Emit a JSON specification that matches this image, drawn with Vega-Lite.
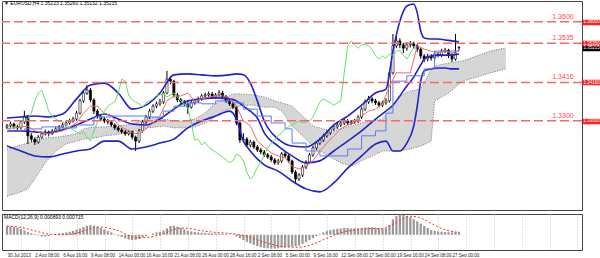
{
"$schema": "https://vega.github.io/schema/vega-lite/v6.json",
"padding": 0,
"autosize": {"type": "pad"},
"background": "#ffffff",
"spacing": 2,
"config": {
  "view": {"stroke": "#444444", "strokeWidth": 1},
  "font": "Liberation Sans",
  "axis": {"labelFont": "Liberation Sans", "labelOverlap": false, "gridColor": "#c4c4c4", "gridDash": [1, 2], "gridWidth": 1, "domain": false},
  "title": {"font": "Liberation Sans"}
},
"datasets": {
  "candles": [
{"i":0,"o":1.328,"h":1.329,"l":1.3274,"c":1.3284},
{"i":2,"o":1.3284,"h":1.3297,"l":1.3279,"c":1.329},
{"i":4,"o":1.329,"h":1.3294,"l":1.3275,"c":1.3281},
{"i":6,"o":1.3281,"h":1.3287,"l":1.327,"c":1.3278},
{"i":8,"o":1.3278,"h":1.3302,"l":1.3273,"c":1.3296},
{"i":10,"o":1.3296,"h":1.333,"l":1.329,"c":1.3314},
{"i":12,"o":1.3314,"h":1.3318,"l":1.3229,"c":1.3254},
{"i":14,"o":1.3254,"h":1.3262,"l":1.3236,"c":1.3244},
{"i":16,"o":1.3244,"h":1.325,"l":1.3226,"c":1.3235},
{"i":18,"o":1.3235,"h":1.3256,"l":1.323,"c":1.325},
{"i":20,"o":1.325,"h":1.3266,"l":1.3245,"c":1.326},
{"i":22,"o":1.326,"h":1.3273,"l":1.3255,"c":1.3266},
{"i":24,"o":1.3266,"h":1.327,"l":1.3252,"c":1.326},
{"i":26,"o":1.326,"h":1.3275,"l":1.3256,"c":1.3269},
{"i":28,"o":1.3269,"h":1.3281,"l":1.3264,"c":1.3275},
{"i":30,"o":1.3275,"h":1.3287,"l":1.327,"c":1.3281},
{"i":32,"o":1.3281,"h":1.3294,"l":1.3277,"c":1.3287},
{"i":34,"o":1.3287,"h":1.33,"l":1.3282,"c":1.3293},
{"i":36,"o":1.3293,"h":1.3306,"l":1.3288,"c":1.3299},
{"i":38,"o":1.3299,"h":1.3312,"l":1.3294,"c":1.3305},
{"i":40,"o":1.3305,"h":1.333,"l":1.33,"c":1.3323},
{"i":42,"o":1.3323,"h":1.3366,"l":1.3318,"c":1.336},
{"i":44,"o":1.336,"h":1.3392,"l":1.3354,"c":1.3384},
{"i":46,"o":1.3384,"h":1.3408,"l":1.3378,"c":1.3393},
{"i":48,"o":1.3393,"h":1.3399,"l":1.3356,"c":1.3363},
{"i":50,"o":1.3363,"h":1.3368,"l":1.332,"c":1.3329},
{"i":52,"o":1.3329,"h":1.3335,"l":1.3306,"c":1.3314},
{"i":54,"o":1.3314,"h":1.332,"l":1.3298,"c":1.3305},
{"i":56,"o":1.3305,"h":1.3311,"l":1.3292,"c":1.3299},
{"i":58,"o":1.3299,"h":1.3305,"l":1.3289,"c":1.3296},
{"i":60,"o":1.3296,"h":1.3301,"l":1.3281,"c":1.3287},
{"i":62,"o":1.3287,"h":1.3292,"l":1.3272,"c":1.3278},
{"i":64,"o":1.3278,"h":1.3284,"l":1.3266,"c":1.3272},
{"i":66,"o":1.3272,"h":1.3278,"l":1.326,"c":1.3266},
{"i":68,"o":1.3266,"h":1.3272,"l":1.3254,"c":1.326},
{"i":70,"o":1.326,"h":1.3272,"l":1.3255,"c":1.3266},
{"i":72,"o":1.3266,"h":1.327,"l":1.3243,"c":1.325},
{"i":74,"o":1.325,"h":1.3255,"l":1.3208,"c":1.3238},
{"i":76,"o":1.3238,"h":1.3275,"l":1.3232,"c":1.3269},
{"i":78,"o":1.3269,"h":1.3302,"l":1.3264,"c":1.3296},
{"i":80,"o":1.3296,"h":1.3318,"l":1.329,"c":1.3311},
{"i":82,"o":1.3311,"h":1.3336,"l":1.3305,"c":1.3329},
{"i":84,"o":1.3329,"h":1.335,"l":1.3323,"c":1.3344},
{"i":86,"o":1.3344,"h":1.3358,"l":1.3338,"c":1.3351},
{"i":88,"o":1.3351,"h":1.3366,"l":1.3345,"c":1.3357},
{"i":90,"o":1.3357,"h":1.339,"l":1.3351,"c":1.3384},
{"i":92,"o":1.3384,"h":1.3451,"l":1.338,"c":1.3426},
{"i":94,"o":1.3426,"h":1.3435,"l":1.341,"c":1.342},
{"i":96,"o":1.342,"h":1.3424,"l":1.337,"c":1.3378},
{"i":98,"o":1.3378,"h":1.3384,"l":1.3356,"c":1.3363},
{"i":100,"o":1.3363,"h":1.3369,"l":1.335,"c":1.3357},
{"i":102,"o":1.3357,"h":1.3363,"l":1.3344,"c":1.3351},
{"i":104,"o":1.3351,"h":1.3356,"l":1.332,"c":1.3341},
{"i":106,"o":1.3341,"h":1.336,"l":1.3336,"c":1.3354},
{"i":108,"o":1.3354,"h":1.3366,"l":1.3348,"c":1.336},
{"i":110,"o":1.336,"h":1.3373,"l":1.3354,"c":1.3366},
{"i":112,"o":1.3366,"h":1.3381,"l":1.336,"c":1.3375},
{"i":114,"o":1.3375,"h":1.3385,"l":1.3369,"c":1.3378},
{"i":116,"o":1.3378,"h":1.3388,"l":1.3372,"c":1.3381},
{"i":118,"o":1.3381,"h":1.3387,"l":1.3366,"c":1.3372},
{"i":120,"o":1.3372,"h":1.3384,"l":1.3366,"c":1.3378},
{"i":122,"o":1.3378,"h":1.3393,"l":1.3372,"c":1.3384},
{"i":124,"o":1.3384,"h":1.339,"l":1.3366,"c":1.3372},
{"i":126,"o":1.3372,"h":1.3378,"l":1.3354,"c":1.336},
{"i":128,"o":1.336,"h":1.3366,"l":1.3345,"c":1.3351},
{"i":130,"o":1.3351,"h":1.3357,"l":1.3335,"c":1.3341},
{"i":132,"o":1.3341,"h":1.3345,"l":1.3286,"c":1.3293},
{"i":134,"o":1.3293,"h":1.3298,"l":1.3232,"c":1.3241},
{"i":136,"o":1.3241,"h":1.3262,"l":1.3235,"c":1.3244},
{"i":138,"o":1.3244,"h":1.325,"l":1.322,"c":1.3226},
{"i":140,"o":1.3226,"h":1.3242,"l":1.3219,"c":1.3235},
{"i":142,"o":1.3235,"h":1.324,"l":1.3214,"c":1.322},
{"i":144,"o":1.322,"h":1.3226,"l":1.3205,"c":1.3211},
{"i":146,"o":1.3211,"h":1.3217,"l":1.3198,"c":1.3205},
{"i":148,"o":1.3205,"h":1.3211,"l":1.319,"c":1.3196},
{"i":150,"o":1.3196,"h":1.3202,"l":1.3184,"c":1.319},
{"i":152,"o":1.319,"h":1.3196,"l":1.3175,"c":1.3181},
{"i":154,"o":1.3181,"h":1.3187,"l":1.3166,"c":1.3172},
{"i":156,"o":1.3172,"h":1.3184,"l":1.3166,"c":1.3178},
{"i":158,"o":1.3178,"h":1.3205,"l":1.3172,"c":1.3199},
{"i":160,"o":1.3199,"h":1.3205,"l":1.3187,"c":1.3193},
{"i":162,"o":1.3193,"h":1.3198,"l":1.3172,"c":1.3178},
{"i":164,"o":1.3178,"h":1.3182,"l":1.3138,"c":1.3144},
{"i":166,"o":1.3144,"h":1.315,"l":1.3108,"c":1.3123},
{"i":168,"o":1.3123,"h":1.3141,"l":1.3117,"c":1.3135},
{"i":170,"o":1.3135,"h":1.3165,"l":1.3129,"c":1.3159},
{"i":172,"o":1.3159,"h":1.318,"l":1.3153,"c":1.3174},
{"i":174,"o":1.3174,"h":1.3202,"l":1.3168,"c":1.3196},
{"i":176,"o":1.3196,"h":1.3223,"l":1.319,"c":1.3217},
{"i":178,"o":1.3217,"h":1.3238,"l":1.3211,"c":1.3232},
{"i":180,"o":1.3232,"h":1.3248,"l":1.3226,"c":1.3241},
{"i":182,"o":1.3241,"h":1.326,"l":1.3235,"c":1.3254},
{"i":184,"o":1.3254,"h":1.327,"l":1.3248,"c":1.3263},
{"i":186,"o":1.3263,"h":1.3281,"l":1.3257,"c":1.3275},
{"i":188,"o":1.3275,"h":1.3288,"l":1.3269,"c":1.3281},
{"i":190,"o":1.3281,"h":1.3294,"l":1.3275,"c":1.3287},
{"i":192,"o":1.3287,"h":1.33,"l":1.3281,"c":1.3293},
{"i":194,"o":1.3293,"h":1.3306,"l":1.3287,"c":1.3299},
{"i":196,"o":1.3299,"h":1.3305,"l":1.3286,"c":1.3293},
{"i":198,"o":1.3293,"h":1.3302,"l":1.3287,"c":1.3296},
{"i":200,"o":1.3296,"h":1.3305,"l":1.329,"c":1.3299},
{"i":202,"o":1.3299,"h":1.3317,"l":1.3293,"c":1.3311},
{"i":204,"o":1.3311,"h":1.3342,"l":1.3305,"c":1.3335},
{"i":206,"o":1.3335,"h":1.3364,"l":1.3329,"c":1.3357},
{"i":208,"o":1.3357,"h":1.3375,"l":1.3351,"c":1.3366},
{"i":210,"o":1.3366,"h":1.3372,"l":1.3353,"c":1.336},
{"i":212,"o":1.336,"h":1.3366,"l":1.3348,"c":1.3354},
{"i":214,"o":1.3354,"h":1.336,"l":1.334,"c":1.3347},
{"i":216,"o":1.3347,"h":1.336,"l":1.3341,"c":1.3354},
{"i":218,"o":1.3354,"h":1.3368,"l":1.3348,"c":1.336},
{"i":220,"o":1.336,"h":1.3452,"l":1.3355,"c":1.3445},
{"i":222,"o":1.3445,"h":1.3563,"l":1.344,"c":1.3527},
{"i":224,"o":1.3527,"h":1.3556,"l":1.352,"c":1.3542},
{"i":226,"o":1.3542,"h":1.355,"l":1.352,"c":1.353},
{"i":228,"o":1.353,"h":1.3536,"l":1.3505,"c":1.352},
{"i":230,"o":1.352,"h":1.3538,"l":1.3512,"c":1.353},
{"i":232,"o":1.353,"h":1.3542,"l":1.3522,"c":1.3533},
{"i":234,"o":1.3533,"h":1.354,"l":1.3518,"c":1.3527},
{"i":236,"o":1.3527,"h":1.3533,"l":1.3508,"c":1.3517},
{"i":238,"o":1.3517,"h":1.3522,"l":1.3488,"c":1.3496},
{"i":240,"o":1.3496,"h":1.3502,"l":1.3478,"c":1.3487},
{"i":242,"o":1.3487,"h":1.3503,"l":1.348,"c":1.3496},
{"i":244,"o":1.3496,"h":1.3502,"l":1.3482,"c":1.349},
{"i":246,"o":1.349,"h":1.3509,"l":1.3485,"c":1.3502},
{"i":248,"o":1.3502,"h":1.3508,"l":1.3492,"c":1.3499},
{"i":250,"o":1.3499,"h":1.3518,"l":1.3493,"c":1.3511},
{"i":252,"o":1.3511,"h":1.3521,"l":1.3505,"c":1.3514},
{"i":254,"o":1.3514,"h":1.3518,"l":1.349,"c":1.3499},
{"i":256,"o":1.3499,"h":1.3505,"l":1.3478,"c":1.3487},
{"i":258,"o":1.3487,"h":1.3563,"l":1.3482,"c":1.3505},
{"i":260,"o":1.35223,"h":1.3526,"l":1.35132,"c":1.35215}
  ],
  "bands": [
{"i":0,"u":1.3308,"m":1.3269,"lo":1.3223},
{"i":8,"u":1.3311,"m":1.3269,"lo":1.3208},
{"i":16,"u":1.3314,"m":1.3266,"lo":1.3193},
{"i":24,"u":1.3311,"m":1.3263,"lo":1.319},
{"i":32,"u":1.332,"m":1.3272,"lo":1.3199},
{"i":40,"u":1.3366,"m":1.3287,"lo":1.3208},
{"i":48,"u":1.3408,"m":1.3305,"lo":1.3214},
{"i":56,"u":1.3414,"m":1.332,"lo":1.3238},
{"i":64,"u":1.3384,"m":1.3305,"lo":1.3238},
{"i":72,"u":1.3335,"m":1.329,"lo":1.3214},
{"i":80,"u":1.3347,"m":1.3287,"lo":1.322},
{"i":88,"u":1.3384,"m":1.3305,"lo":1.3232},
{"i":96,"u":1.3439,"m":1.3335,"lo":1.3244},
{"i":104,"u":1.3442,"m":1.336,"lo":1.3278},
{"i":112,"u":1.3439,"m":1.3366,"lo":1.3299},
{"i":120,"u":1.3436,"m":1.3369,"lo":1.3314},
{"i":128,"u":1.3439,"m":1.3366,"lo":1.3329},
{"i":132,"u":1.3442,"m":1.336,"lo":1.3305},
{"i":136,"u":1.3439,"m":1.3344,"lo":1.3238},
{"i":140,"u":1.3414,"m":1.3329,"lo":1.3208},
{"i":144,"u":1.336,"m":1.3308,"lo":1.3184},
{"i":148,"u":1.3299,"m":1.3263,"lo":1.3166},
{"i":156,"u":1.3244,"m":1.3223,"lo":1.3147},
{"i":164,"u":1.3223,"m":1.3193,"lo":1.3117},
{"i":172,"u":1.322,"m":1.3172,"lo":1.3093},
{"i":180,"u":1.3244,"m":1.3178,"lo":1.3084},
{"i":188,"u":1.3287,"m":1.3208,"lo":1.3111},
{"i":196,"u":1.3314,"m":1.3238,"lo":1.3156},
{"i":204,"u":1.3347,"m":1.3269,"lo":1.3193},
{"i":212,"u":1.3384,"m":1.3305,"lo":1.3229},
{"i":218,"u":1.3396,"m":1.3329,"lo":1.3238},
{"i":222,"u":1.3511,"m":1.3347,"lo":1.3208},
{"i":226,"u":1.3602,"m":1.3375,"lo":1.3208},
{"i":230,"u":1.3648,"m":1.3405,"lo":1.3232},
{"i":234,"u":1.3654,"m":1.3432,"lo":1.3284},
{"i":236,"u":1.3627,"m":1.3451,"lo":1.3344},
{"i":238,"u":1.3572,"m":1.3469,"lo":1.342},
{"i":240,"u":1.3551,"m":1.3487,"lo":1.3451},
{"i":244,"u":1.3548,"m":1.3496,"lo":1.3457},
{"i":248,"u":1.3548,"m":1.3499,"lo":1.346},
{"i":252,"u":1.3545,"m":1.3499,"lo":1.346},
{"i":256,"u":1.3542,"m":1.3499,"lo":1.3457},
{"i":260,"u":1.3539,"m":1.3502,"lo":1.3457}
  ],
  "cloud": [
{"i":0,"a":1.3214,"b":1.3071},
{"i":6,"a":1.3223,"b":1.308},
{"i":12,"a":1.3232,"b":1.3093},
{"i":16,"a":1.3238,"b":1.3123},
{"i":22,"a":1.3247,"b":1.3172},
{"i":28,"a":1.325,"b":1.3208},
{"i":34,"a":1.3254,"b":1.3229},
{"i":40,"a":1.326,"b":1.3238},
{"i":44,"a":1.3275,"b":1.3244},
{"i":50,"a":1.3281,"b":1.3247},
{"i":56,"a":1.3281,"b":1.3254},
{"i":62,"a":1.3284,"b":1.3257},
{"i":68,"a":1.3287,"b":1.3263},
{"i":74,"a":1.3293,"b":1.3269},
{"i":80,"a":1.3305,"b":1.3278},
{"i":86,"a":1.3311,"b":1.3281},
{"i":90,"a":1.3305,"b":1.3284},
{"i":96,"a":1.3299,"b":1.3278},
{"i":102,"a":1.3299,"b":1.3278},
{"i":108,"a":1.3305,"b":1.3281},
{"i":114,"a":1.3323,"b":1.3293},
{"i":118,"a":1.3344,"b":1.3305},
{"i":124,"a":1.3366,"b":1.3329},
{"i":130,"a":1.3381,"b":1.3338},
{"i":136,"a":1.3381,"b":1.3347},
{"i":142,"a":1.3378,"b":1.3347},
{"i":148,"a":1.3372,"b":1.3341},
{"i":154,"a":1.336,"b":1.3341},
{"i":158,"a":1.3354,"b":1.3329},
{"i":164,"a":1.3344,"b":1.3284},
{"i":170,"a":1.3314,"b":1.3254},
{"i":176,"a":1.3284,"b":1.3223},
{"i":182,"a":1.3275,"b":1.3202},
{"i":188,"a":1.3269,"b":1.3184},
{"i":192,"a":1.3275,"b":1.3172},
{"i":198,"a":1.3284,"b":1.3162},
{"i":204,"a":1.3293,"b":1.3178},
{"i":210,"a":1.3299,"b":1.3193},
{"i":216,"a":1.3305,"b":1.3208},
{"i":220,"a":1.3329,"b":1.3208},
{"i":226,"a":1.3375,"b":1.3208},
{"i":232,"a":1.339,"b":1.3214},
{"i":238,"a":1.3396,"b":1.3223},
{"i":242,"a":1.3436,"b":1.3232},
{"i":244,"a":1.3457,"b":1.3238},
{"i":246,"a":1.3466,"b":1.336},
{"i":254,"a":1.3475,"b":1.3384},
{"i":262,"a":1.3481,"b":1.342},
{"i":270,"a":1.3496,"b":1.3432},
{"i":278,"a":1.3511,"b":1.3445},
{"i":287,"a":1.3521,"b":1.3457}
  ],
  "tenkan": [
{"i":0,"v":1.3275},{"i":8,"v":1.3281},{"i":12,"v":1.3284},{"i":16,"v":1.3269},{"i":24,"v":1.326},{"i":32,"v":1.3269},{"i":36,"v":1.3281},{"i":40,"v":1.3293},{"i":44,"v":1.3323},{"i":48,"v":1.3344},{"i":52,"v":1.3344},{"i":56,"v":1.3323},{"i":60,"v":1.3314},{"i":64,"v":1.3287},{"i":68,"v":1.3275},{"i":72,"v":1.3263},{"i":76,"v":1.326},{"i":80,"v":1.3275},{"i":84,"v":1.3293},{"i":88,"v":1.3314},{"i":92,"v":1.336},{"i":96,"v":1.3375},{"i":100,"v":1.3375},{"i":104,"v":1.3384},{"i":108,"v":1.336},{"i":112,"v":1.3366},{"i":116,"v":1.3372},{"i":120,"v":1.3375},{"i":124,"v":1.3375},{"i":128,"v":1.3369},{"i":132,"v":1.3344},{"i":136,"v":1.3299},{"i":140,"v":1.3284},{"i":144,"v":1.3238},{"i":148,"v":1.322},{"i":152,"v":1.3202},{"i":156,"v":1.3193},{"i":160,"v":1.3187},{"i":164,"v":1.3162},{"i":168,"v":1.3153},{"i":172,"v":1.3162},{"i":176,"v":1.3178},{"i":180,"v":1.3208},{"i":184,"v":1.3232},{"i":188,"v":1.3254},{"i":192,"v":1.3275},{"i":196,"v":1.3287},{"i":200,"v":1.3293},{"i":204,"v":1.3314},{"i":208,"v":1.3329},{"i":212,"v":1.3335},{"i":216,"v":1.3351},{"i":220,"v":1.3405},{"i":224,"v":1.3445},{"i":228,"v":1.3445},{"i":232,"v":1.3445},{"i":236,"v":1.3527},{"i":240,"v":1.3517},{"i":244,"v":1.3511},{"i":248,"v":1.3505},{"i":252,"v":1.3511},{"i":256,"v":1.3505},{"i":260,"v":1.3511}
  ],
  "kijun": [
{"i":0,"v":1.3269},{"i":10,"v":1.3275},{"i":20,"v":1.3281},{"i":30,"v":1.3278},{"i":40,"v":1.3287},{"i":50,"v":1.3311},{"i":60,"v":1.3314},{"i":80,"v":1.3311},{"i":90,"v":1.3329},{"i":96,"v":1.3344},{"i":104,"v":1.3354},{"i":112,"v":1.3351},{"i":120,"v":1.336},{"i":130,"v":1.3354},{"i":136,"v":1.3335},{"i":144,"v":1.3314},{"i":152,"v":1.3293},{"i":160,"v":1.3275},{"i":164,"v":1.3232},{"i":172,"v":1.3208},{"i":180,"v":1.3193},{"i":196,"v":1.3214},{"i":204,"v":1.3254},{"i":212,"v":1.3269},{"i":218,"v":1.3323},{"i":222,"v":1.342},{"i":230,"v":1.3436},{"i":240,"v":1.3457},{"i":246,"v":1.3511},{"i":260,"v":1.3517}
  ],
  "chikou": [
{"i":0,"v":1.3269},{"i":2,"v":1.3275},{"i":4,"v":1.3281},{"i":6,"v":1.3287},{"i":8,"v":1.3293},{"i":10,"v":1.3299},{"i":12,"v":1.3305},{"i":14,"v":1.3323},{"i":16,"v":1.336},{"i":18,"v":1.3384},{"i":20,"v":1.3393},{"i":22,"v":1.3363},{"i":24,"v":1.3329},{"i":26,"v":1.3314},{"i":28,"v":1.3305},{"i":30,"v":1.3299},{"i":32,"v":1.3296},{"i":34,"v":1.3287},{"i":36,"v":1.3278},{"i":38,"v":1.3272},{"i":40,"v":1.3266},{"i":42,"v":1.326},{"i":44,"v":1.3266},{"i":46,"v":1.325},{"i":48,"v":1.3238},{"i":50,"v":1.3269},{"i":52,"v":1.3296},{"i":54,"v":1.3311},{"i":56,"v":1.3329},{"i":58,"v":1.3344},{"i":60,"v":1.3351},{"i":62,"v":1.3357},{"i":64,"v":1.3384},{"i":66,"v":1.3426},{"i":68,"v":1.342},{"i":70,"v":1.3378},{"i":72,"v":1.3363},{"i":74,"v":1.3357},{"i":76,"v":1.3351},{"i":78,"v":1.3341},{"i":80,"v":1.3354},{"i":82,"v":1.336},{"i":84,"v":1.3366},{"i":86,"v":1.3375},{"i":88,"v":1.3378},{"i":90,"v":1.3381},{"i":92,"v":1.3372},{"i":94,"v":1.3378},{"i":96,"v":1.3384},{"i":98,"v":1.3372},{"i":100,"v":1.336},{"i":102,"v":1.3351},{"i":104,"v":1.3341},{"i":106,"v":1.3293},{"i":108,"v":1.3241},{"i":110,"v":1.3244},{"i":112,"v":1.3226},{"i":114,"v":1.3235},{"i":116,"v":1.322},{"i":118,"v":1.3211},{"i":120,"v":1.3205},{"i":122,"v":1.3196},{"i":124,"v":1.319},{"i":126,"v":1.3181},{"i":128,"v":1.3172},{"i":130,"v":1.3178},{"i":132,"v":1.3199},{"i":134,"v":1.3193},{"i":136,"v":1.3178},{"i":138,"v":1.3144},{"i":140,"v":1.3123},{"i":142,"v":1.3135},{"i":144,"v":1.3159},{"i":146,"v":1.3174},{"i":148,"v":1.3196},{"i":150,"v":1.3217},{"i":152,"v":1.3232},{"i":154,"v":1.3241},{"i":156,"v":1.3254},{"i":158,"v":1.3263},{"i":160,"v":1.3275},{"i":162,"v":1.3281},{"i":164,"v":1.3287},{"i":166,"v":1.3293},{"i":168,"v":1.3299},{"i":170,"v":1.3293},{"i":172,"v":1.3296},{"i":174,"v":1.3299},{"i":176,"v":1.3311},{"i":178,"v":1.3335},{"i":180,"v":1.3357},{"i":182,"v":1.3366},{"i":184,"v":1.336},{"i":186,"v":1.3354},{"i":188,"v":1.3347},{"i":190,"v":1.3354},{"i":192,"v":1.336},{"i":194,"v":1.3445},{"i":196,"v":1.3527},{"i":198,"v":1.3542},{"i":200,"v":1.353},{"i":202,"v":1.352},{"i":204,"v":1.353},{"i":206,"v":1.3533},{"i":208,"v":1.3527},{"i":210,"v":1.3517},{"i":212,"v":1.3496},{"i":214,"v":1.3487},{"i":216,"v":1.3496},{"i":218,"v":1.349},{"i":220,"v":1.3502},{"i":222,"v":1.3499},{"i":224,"v":1.3511},{"i":226,"v":1.3514},{"i":228,"v":1.3499},{"i":230,"v":1.3487},{"i":232,"v":1.3505},{"i":234,"v":1.3521}
  ],
  "levels": [
{"level":1.36,"label":"1.3600"},{"level":1.3535,"label":"1.3535"},{"level":1.3416,"label":"1.3416"},{"level":1.33,"label":"1.3300"}
  ],
  "macd": [
{"i":0,"h":0.0026},{"i":2,"h":0.0025},{"i":4,"h":0.0024},{"i":6,"h":0.0021},{"i":8,"h":0.0018},{"i":10,"h":0.0013},{"i":12,"h":0.0008},{"i":14,"h":0.0005},{"i":16,"h":0.0002},{"i":18,"h":-0.0002},{"i":20,"h":-0.0005},{"i":22,"h":-0.0005},{"i":24,"h":-0.0004},{"i":26,"h":-0.0001},{"i":28,"h":0.0002},{"i":30,"h":0.0004},{"i":32,"h":0.0005},{"i":34,"h":0.0007},{"i":36,"h":0.0009},{"i":38,"h":0.0012},{"i":40,"h":0.0015},{"i":42,"h":0.0019},{"i":44,"h":0.0023},{"i":46,"h":0.0027},{"i":48,"h":0.0029},{"i":50,"h":0.0027},{"i":52,"h":0.0024},{"i":54,"h":0.002},{"i":56,"h":0.0016},{"i":58,"h":0.0011},{"i":60,"h":0.0007},{"i":62,"h":0.0002},{"i":64,"h":-0.0003},{"i":66,"h":-0.0007},{"i":68,"h":-0.0011},{"i":70,"h":-0.0014},{"i":72,"h":-0.0016},{"i":74,"h":-0.0015},{"i":76,"h":-0.0012},{"i":78,"h":-0.0008},{"i":80,"h":-0.0004},{"i":82,"h":0.0},{"i":84,"h":0.0004},{"i":86,"h":0.0007},{"i":88,"h":0.0009},{"i":90,"h":0.0013},{"i":92,"h":0.0019},{"i":94,"h":0.0026},{"i":96,"h":0.0027},{"i":98,"h":0.0024},{"i":100,"h":0.002},{"i":102,"h":0.0016},{"i":104,"h":0.0012},{"i":106,"h":0.001},{"i":108,"h":0.0008},{"i":110,"h":0.0007},{"i":112,"h":0.0006},{"i":114,"h":0.00055},{"i":116,"h":0.0005},{"i":118,"h":0.00045},{"i":120,"h":0.0004},{"i":122,"h":0.00035},{"i":124,"h":0.0003},{"i":126,"h":0.0002},{"i":128,"h":0.0001},{"i":130,"h":-0.0001},{"i":132,"h":-0.0005},{"i":134,"h":-0.001},{"i":136,"h":-0.0016},{"i":138,"h":-0.0021},{"i":140,"h":-0.0026},{"i":142,"h":-0.003},{"i":144,"h":-0.0034},{"i":146,"h":-0.0037},{"i":148,"h":-0.0039},{"i":150,"h":-0.004},{"i":152,"h":-0.0041},{"i":154,"h":-0.0041},{"i":156,"h":-0.004},{"i":158,"h":-0.0038},{"i":160,"h":-0.0037},{"i":162,"h":-0.0036},{"i":164,"h":-0.0035},{"i":166,"h":-0.0034},{"i":168,"h":-0.0032},{"i":170,"h":-0.0027},{"i":172,"h":-0.0022},{"i":174,"h":-0.0016},{"i":176,"h":-0.001},{"i":178,"h":-0.0004},{"i":180,"h":0.0002},{"i":182,"h":0.0007},{"i":184,"h":0.0011},{"i":186,"h":0.0014},{"i":188,"h":0.0016},{"i":190,"h":0.0018},{"i":192,"h":0.0019},{"i":194,"h":0.002},{"i":196,"h":0.002},{"i":198,"h":0.0019},{"i":200,"h":0.0019},{"i":202,"h":0.0019},{"i":204,"h":0.002},{"i":206,"h":0.0021},{"i":208,"h":0.0022},{"i":210,"h":0.0022},{"i":212,"h":0.0021},{"i":214,"h":0.002},{"i":216,"h":0.0019},{"i":218,"h":0.0019},{"i":220,"h":0.003},{"i":222,"h":0.0046},{"i":224,"h":0.0056},{"i":226,"h":0.006},{"i":228,"h":0.0059},{"i":230,"h":0.0056},{"i":232,"h":0.0052},{"i":234,"h":0.0046},{"i":236,"h":0.004},{"i":238,"h":0.0033},{"i":240,"h":0.0026},{"i":242,"h":0.002},{"i":244,"h":0.0014},{"i":246,"h":0.0012},{"i":248,"h":0.001},{"i":250,"h":0.0009},{"i":252,"h":0.0008},{"i":254,"h":0.00075},{"i":256,"h":0.0007},{"i":258,"h":0.0008},{"i":260,"h":0.000893}
  ],
  "signal": [
{"i":0,"s":0.0026},{"i":8,"s":0.0022},{"i":16,"s":0.0012},{"i":24,"s":0.0002},{"i":32,"s":0.0},{"i":40,"s":0.0005},{"i":48,"s":0.0018},{"i":52,"s":0.0023},{"i":56,"s":0.0022},{"i":64,"s":0.0012},{"i":72,"s":-0.0006},{"i":76,"s":-0.0009},{"i":84,"s":-0.0005},{"i":90,"s":0.0003},{"i":96,"s":0.0016},{"i":100,"s":0.002},{"i":104,"s":0.0019},{"i":112,"s":0.0012},{"i":120,"s":0.0007},{"i":128,"s":0.0004},{"i":136,"s":-0.0002},{"i":144,"s":-0.0015},{"i":152,"s":-0.0028},{"i":160,"s":-0.0036},{"i":168,"s":-0.0037},{"i":176,"s":-0.0028},{"i":184,"s":-0.001},{"i":192,"s":0.0006},{"i":200,"s":0.0014},{"i":208,"s":0.0018},{"i":216,"s":0.0019},{"i":224,"s":0.0036},{"i":228,"s":0.0048},{"i":232,"s":0.0055},{"i":236,"s":0.0053},{"i":240,"s":0.0045},{"i":244,"s":0.0034},{"i":248,"s":0.0023},{"i":252,"s":0.0015},{"i":256,"s":0.001},{"i":260,"s":0.000715}
  ]
},
"vconcat": [
  {
    "width": 580,
    "height": 209,
    "title": {"text": "▼ EURUSD,H4  1.35223 1.35260 1.35132 1.35215", "anchor": "start", "frame": "group", "orient": "top", "offset": -5, "baseline": "top", "fontSize": 5, "fontWeight": "normal", "color": "#000000", "dx": 2},
    "resolve": {"scale": {"y": "independent"}, "axis": {"y": "independent"}},
    "layer": [
      {
        "encoding": {
          "x": {"field": "i", "type": "quantitative", "scale": {"domain": [0, 327.9], "nice": false, "zero": false},
                "axis": {"values": [8,24,40,56,72,88,104,120,136,152,168,184,200,216,232,248,264,280,296,312], "labels": false, "ticks": false, "title": null, "grid": true}}
        },
        "layer": [
          {"data": {"name": "cloud"}, "mark": {"type": "area", "color": "#b4b4b4", "opacity": 0.55, "clip": true},
           "encoding": {
             "y": {"field": "a", "type": "quantitative", "scale": {"domain": [1.30289, 1.36631], "nice": false, "zero": false},
                   "axis": {"orient": "right", "values": [1.3651,1.3607,1.3563,1.3519,1.3475,1.3431,1.3387,1.3343,1.3299,1.3255,1.3211,1.3167,1.3123,1.3079,1.3035], "format": ".5f", "title": null, "grid": true, "ticks": true, "tickSize": 2, "tickColor": "#444444", "labelFontSize": 4.5, "labelPadding": 1, "labelColor": "#222222", "labelLimit": 18}},
             "y2": {"field": "b"}}},
          {"data": {"name": "cloud"}, "mark": {"type": "line", "color": "#555555", "strokeWidth": 0.8, "strokeDash": [1, 1.5], "clip": true},
           "encoding": {"y": {"field": "a", "type": "quantitative", "scale": {"domain": [1.30289, 1.36631], "nice": false, "zero": false}, "axis": null}}},
          {"data": {"name": "cloud"}, "mark": {"type": "line", "color": "#555555", "strokeWidth": 0.8, "strokeDash": [1, 1.5], "clip": true},
           "encoding": {"y": {"field": "b", "type": "quantitative", "scale": {"domain": [1.30289, 1.36631], "nice": false, "zero": false}, "axis": null}}},
          {"data": {"name": "candles"}, "mark": {"type": "rule", "color": "#000000", "strokeWidth": 1, "clip": true},
           "encoding": {"y": {"field": "l", "type": "quantitative", "scale": {"domain": [1.30289, 1.36631], "nice": false, "zero": false}, "axis": null}, "y2": {"field": "h"}}},
          {"data": {"name": "candles"}, "mark": {"type": "bar", "size": 2.2, "stroke": "#000000", "strokeWidth": 0.6, "clip": true},
           "encoding": {"y": {"field": "o", "type": "quantitative", "scale": {"domain": [1.30289, 1.36631], "nice": false, "zero": false}, "axis": null}, "y2": {"field": "c"},
             "fill": {"condition": {"test": "datum.c >= datum.o", "value": "#ffffff"}, "value": "#000000"}}},
          {"data": {"name": "bands"}, "mark": {"type": "line", "color": "#1f22c8", "strokeWidth": 1.6, "interpolate": "monotone", "clip": true},
           "encoding": {"y": {"field": "u", "type": "quantitative", "scale": {"domain": [1.30289, 1.36631], "nice": false, "zero": false}, "axis": null}}},
          {"data": {"name": "bands"}, "mark": {"type": "line", "color": "#1f22c8", "strokeWidth": 1.6, "interpolate": "monotone", "clip": true},
           "encoding": {"y": {"field": "m", "type": "quantitative", "scale": {"domain": [1.30289, 1.36631], "nice": false, "zero": false}, "axis": null}}},
          {"data": {"name": "bands"}, "mark": {"type": "line", "color": "#1f22c8", "strokeWidth": 1.6, "interpolate": "monotone", "clip": true},
           "encoding": {"y": {"field": "lo", "type": "quantitative", "scale": {"domain": [1.30289, 1.36631], "nice": false, "zero": false}, "axis": null}}},
          {"data": {"name": "kijun"}, "mark": {"type": "line", "color": "#5a78ff", "strokeWidth": 1, "interpolate": "step-after", "clip": true},
           "encoding": {"y": {"field": "v", "type": "quantitative", "scale": {"domain": [1.30289, 1.36631], "nice": false, "zero": false}, "axis": null}}},
          {"data": {"name": "tenkan"}, "mark": {"type": "line", "color": "#f26868", "strokeWidth": 1, "clip": true},
           "encoding": {"y": {"field": "v", "type": "quantitative", "scale": {"domain": [1.30289, 1.36631], "nice": false, "zero": false}, "axis": null}}},
          {"data": {"name": "chikou"}, "mark": {"type": "line", "color": "#66e066", "strokeWidth": 1, "clip": true},
           "encoding": {"y": {"field": "v", "type": "quantitative", "scale": {"domain": [1.30289, 1.36631], "nice": false, "zero": false}, "axis": null}}}
        ]
      },
      {
        "data": {"name": "levels"},
        "encoding": {
          "y": {"field": "level", "type": "quantitative", "scale": {"domain": [1.30289, 1.36631], "nice": false, "zero": false},
                "axis": {"orient": "right", "values": [1.36, 1.3535, 1.3416, 1.33, 1.35215], "format": ".5f", "title": null, "grid": false, "domain": false, "ticks": true, "tickSize": 18, "tickWidth": 5.5,
                         "tickColor": {"condition": {"test": "datum.value == 1.35215", "value": "#000000"}, "value": "#ff2020"},
                         "labelColor": "#ffffff", "labelPadding": -17, "labelFontSize": 4.5, "labelLimit": 18}}
        },
        "layer": [
          {"mark": {"type": "rule", "color": "#f46a6a", "strokeWidth": 1.5, "strokeDash": [9, 4]}, "encoding": {}},
          {"mark": {"type": "text", "align": "right", "baseline": "bottom", "dy": -2, "fontSize": 7, "color": "#ff4a4a"},
           "encoding": {"x": {"datum": 326, "type": "quantitative", "axis": null}, "text": {"field": "label"}}}
        ]
      }
    ]
  },
  {
    "width": 580,
    "height": 36,
    "title": {"text": "MACD(12,26,9) 0.000893 0.000715", "anchor": "start", "frame": "group", "orient": "top", "offset": -6, "baseline": "top", "fontSize": 5, "fontWeight": "normal", "color": "#000000", "dx": 2},
    "encoding": {
      "x": {"field": "i", "type": "quantitative", "scale": {"domain": [0, 327.9], "nice": false, "zero": false},
            "axis": {"values": [0,16,32,48,64,80,96,112,128,144,160,176,192,208,224,240,256,272,288,304,320], "tickOffset": 14.15, "labelOffset": -14.15, "ticks": false, "grid": true, "title": null,
                     "labelAlign": "left", "labelFontSize": 4.5, "labelPadding": 2, "labelColor": "#222222", "labelBound": false, "labelFlush": false,
                     "labelExpr": "datum.value <= 256 ? ['30 Jul 2013','2 Aug 08:00','6 Aug 16:00','9 Aug 08:00','14 Aug 00:00','16 Aug 16:00','21 Aug 08:00','26 Aug 00:00','28 Aug 16:00','2 Sep 08:00','5 Sep 00:00','9 Sep 16:00','12 Sep 08:00','17 Sep 00:00','19 Sep 16:00','24 Sep 08:00','27 Sep 00:00'][round(datum.value / 16)] : ''"}}
    },
    "layer": [
      {"data": {"name": "macd"}, "mark": {"type": "bar", "color": "#999999", "size": 2.2, "clip": true},
       "encoding": {
         "y": {"field": "h", "type": "quantitative", "scale": {"domain": [-0.00452, 0.006166], "nice": false, "zero": false},
               "axis": {"orient": "right", "values": [0.006166, 0, -0.00452], "labelExpr": "datum.value == 0 ? '0.00' : format(datum.value, '.6f')", "title": null, "grid": true, "ticks": true, "tickSize": 2, "tickColor": "#444444", "labelFontSize": 4.5, "labelPadding": 1, "labelFlush": true, "labelColor": "#222222", "labelLimit": 18}},
         "y2": {"datum": 0}}},
      {"data": {"name": "signal"}, "mark": {"type": "line", "color": "#ff2a2a", "strokeWidth": 1, "strokeDash": [2, 2], "interpolate": "monotone", "clip": true},
       "encoding": {"y": {"field": "s", "type": "quantitative", "scale": {"domain": [-0.00452, 0.006166], "nice": false, "zero": false}, "axis": null}}}
    ]
  }
]
}
